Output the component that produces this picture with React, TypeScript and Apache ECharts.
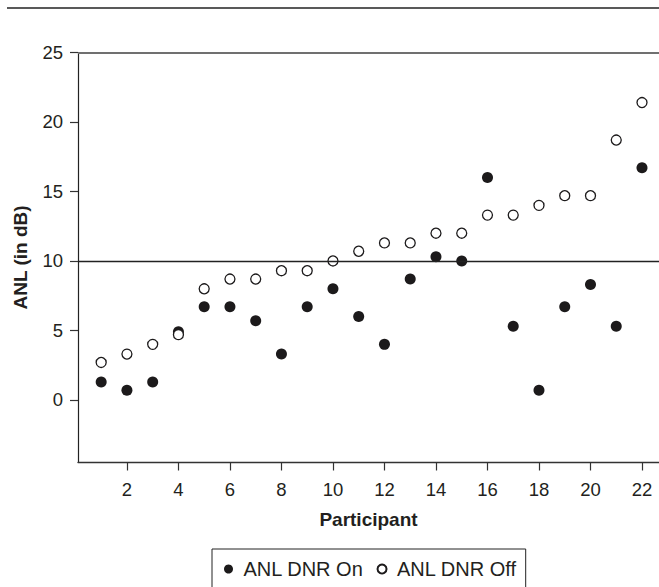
import React, { useEffect, useRef } from "react";
import * as echarts from "echarts";

const participants = [1, 2, 3, 4, 5, 6, 7, 8, 9, 10, 11, 12, 13, 14, 15, 16, 17, 18, 19, 20, 21, 22];
const dnrOn = [1.3, 0.7, 1.3, 4.9, 6.7, 6.7, 5.7, 3.3, 6.7, 8.0, 6.0, 4.0, 8.7, 10.3, 10.0, 16.0, 5.3, 0.7, 6.7, 8.3, 5.3, 16.7];
const dnrOff = [2.7, 3.3, 4.0, 4.7, 8.0, 8.7, 8.7, 9.3, 9.3, 10.0, 10.7, 11.3, 11.3, 12.0, 12.0, 13.3, 13.3, 14.0, 14.7, 14.7, 18.7, 21.4];
const xTicks = [2, 4, 6, 8, 10, 12, 14, 16, 18, 20, 22];
const yTicks = [0, 5, 10, 15, 20, 25];
const seriesNames = ["ANL DNR On", "ANL DNR Off"];

const FONT = "'Liberation Sans', Arial, Helvetica, sans-serif";
const TXT = "#231f20";

export default function App() {
  const ref = useRef<HTMLDivElement>(null);
  useEffect(() => {
    const chart = echarts.init(ref.current!, null, { renderer: "svg" });
    chart.setOption({
      animation: false,
      backgroundColor: "#ffffff",
      textStyle: { fontFamily: FONT, color: TXT },
      grid: { left: 78, right: 0, top: 52.5, bottom: 124.5, containLabel: false, outerBoundsMode: "none" },
      xAxis: {
        type: "value",
        min: 0.1,
        max: 22.66,
        name: "Participant",
        nameLocation: "middle",
        nameGap: 47,
        nameTextStyle: { fontFamily: FONT, fontSize: 19, fontWeight: "bold", color: TXT },
        axisLine: { show: true, onZero: false, lineStyle: { color: "#333", width: 1.3 } },
        axisTick: { show: true, inside: false, length: 8, customValues: xTicks, lineStyle: { color: "#333", width: 1.2 } },
        axisLabel: { customValues: xTicks, margin: 17, fontFamily: FONT, fontSize: 18.5, color: TXT },
        splitLine: { show: false },
      },
      yAxis: {
        type: "value",
        min: -4.5,
        max: 25,
        name: "ANL (in dB)",
        nameLocation: "middle",
        nameGap: 48,
        nameTextStyle: { fontFamily: FONT, fontSize: 19, fontWeight: "bold", color: TXT },
        axisLine: { show: true, onZero: false, lineStyle: { color: "#222", width: 1.2 } },
        axisTick: { show: true, inside: false, length: 8, customValues: yTicks, lineStyle: { color: "#333", width: 1.2 } },
        axisLabel: { customValues: yTicks, margin: 15, fontFamily: FONT, fontSize: 18.5, color: TXT },
        splitLine: { show: false },
      },
      legend: {
        data: seriesNames,
        left: 212,
        top: 549,
        orient: "horizontal",
        padding: [10, 9, 10, 12],
        itemGap: 13,
        itemWidth: 20,
        itemHeight: 9,
        borderColor: "#222",
        borderWidth: 1,
        borderRadius: 0,
        backgroundColor: "#fff",
        textStyle: { fontFamily: FONT, fontSize: 20, color: TXT },
        selectedMode: false,
      },
      graphic: [
        {
          type: "line",
          shape: { x1: 7, y1: 8, x2: 659, y2: 8 },
          style: { stroke: "#222", lineWidth: 1.4 },
          silent: true,
        },
      ],
      series: [
        {
          name: seriesNames[0],
          type: "scatter",
          symbol: "circle",
          symbolSize: 11,
          itemStyle: { color: "#1c1a1b", borderWidth: 0, opacity: 1 },
          data: participants.map((p, i) => [p, dnrOn[i]]),
          markLine: {
            silent: true,
            symbol: ["none", "none"],
            label: { show: false },
            animation: false,
            data: [
              { yAxis: 10, lineStyle: { color: "#222", width: 1.3, type: "solid" } },
              { yAxis: 25, lineStyle: { color: "#707070", width: 2, type: "solid" } },
            ],
          },
          z: 2,
        },
        {
          name: seriesNames[1],
          type: "scatter",
          symbol: "circle",
          symbolSize: 10,
          itemStyle: { color: "#ffffff", borderColor: "#1c1a1b", borderWidth: 1.3, opacity: 1 },
          data: participants.map((p, i) => [p, dnrOff[i]]),
          z: 3,
        },
      ],
    });
    return () => chart.dispose();
  }, []);
  return (
    <div
      ref={ref}
      style={{ position: "fixed", left: 0, top: 0, width: 659, height: 587, background: "#fff" }}
    />
  );
}
